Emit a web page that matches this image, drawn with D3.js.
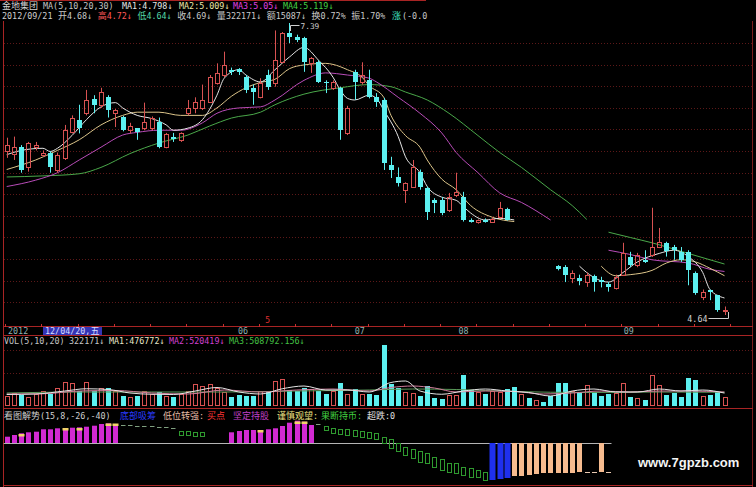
<!DOCTYPE html>
<html><head><meta charset="utf-8">
<script src="https://cdn.jsdelivr.net/npm/d3@7"></script>
<style>html,body{margin:0;padding:0;background:#000;}svg{display:block;}</style>
</head><body>
<svg id="c" width="756" height="487"></svg>
<script>
// ---------------- DATA ----------------
// daily candles, index 0..99 ; 70..75 are masked (blacked out) in the reference
const opens = [6.18,6.16,6.22,6.03,6.22,6.15,6.17,6.01,6.12,6.36,
6.48,6.54,6.67,6.62,6.69,6.54,6.505,6.38,6.40,6.40,
6.40,6.46,6.22,6.32,6.29,6.54,6.59,6.59,6.65,6.825,
6.90,6.95,6.955,6.88,6.78,6.69,6.90,6.825,7.02,7.30,
7.26,7.25,7.01,7.02,6.835,6.78,6.78,6.355,6.93,6.835,
6.855,6.69,6.665,6.05,5.94,5.82,5.85,5.99,5.84,5.72,
5.72,5.63,5.77,5.75,5.53,5.52,5.53,5.52,5.56,5.64,
null,null,null,null,null,null,5.10,5.09,4.99,4.99,
4.95,5.01,4.97,4.93,4.895,5.02,5.19,5.11,5.16,5.205,
5.28,5.32,5.28,5.235,5.235,5.04,4.81,4.88,4.83,4.68];
const highs = [6.31,6.32,6.24,6.27,6.27,6.19,6.18,6.17,6.43,6.52,
6.62,6.76,6.71,6.78,6.71,6.58,6.515,6.45,6.40,6.64,
6.51,6.50,6.355,6.355,6.36,6.665,6.69,6.81,6.90,7.01,
7.12,6.97,6.965,6.90,6.81,6.87,6.95,7.32,7.305,7.39,
7.28,7.26,7.07,7.04,6.85,6.85,6.79,6.61,6.95,7.02,
6.95,6.73,6.685,6.13,6.03,5.89,6.10,6.01,5.85,5.74,
5.75,5.79,5.98,5.80,5.55,5.54,5.55,5.56,5.705,5.65,
null,null,null,null,null,null,5.11,5.11,5.06,5.02,
5.04,5.02,5.00,4.95,5.02,5.32,5.235,5.225,5.25,5.65,
5.46,5.33,5.30,5.28,5.25,5.05,4.88,4.88,4.83,4.72];
const lows = [6.12,6.10,5.98,5.99,6.19,6.13,5.98,5.98,6.10,6.35,
6.35,6.52,6.54,6.59,6.50,6.41,6.37,6.35,6.29,6.38,
6.38,6.21,6.21,6.27,6.27,6.52,6.54,6.57,6.64,6.81,
6.88,6.90,6.90,6.73,6.62,6.68,6.76,6.79,7.01,7.20,
7.21,6.93,6.92,6.825,6.73,6.76,6.29,6.335,6.665,6.81,
6.68,6.60,6.006,5.93,5.85,5.695,5.84,5.82,5.535,5.60,
5.58,5.61,5.75,5.52,5.51,5.50,5.51,5.51,5.55,5.53,
null,null,null,null,null,null,5.06,4.95,4.94,4.92,
4.905,4.86,4.90,4.86,4.88,5.01,5.09,5.09,5.13,5.187,
5.27,5.19,5.16,5.14,4.92,4.83,4.78,4.78,4.67,4.64];
const closes = [6.24,6.22,6.01,6.26,6.24,6.17,6.03,6.15,6.38,6.50,
6.40,6.665,6.62,6.74,6.57,6.57,6.38,6.42,6.36,6.46,
6.50,6.22,6.34,6.30,6.355,6.59,6.645,6.665,6.88,6.92,
6.995,6.93,6.93,6.76,6.74,6.825,6.79,7.04,7.30,7.26,
7.23,7.02,7.06,6.835,6.825,6.835,6.38,6.59,6.835,6.90,
6.69,6.645,6.07,6.01,5.88,5.88,6.035,5.85,5.61,5.695,
5.60,5.75,5.80,5.535,5.52,5.53,5.52,5.54,5.65,5.535,
null,null,null,null,null,null,5.07,5.02,5.04,4.96,
5.02,4.95,4.95,4.90,5.00,5.225,5.11,5.205,5.14,5.28,
5.33,5.24,5.25,5.16,5.064,4.85,4.86,4.86,4.69,4.69];
// direction of the volume bars on the masked days 70..75
const maskedDayUp = [false,true,false,true,false,false];

const volumes = [362000,478000,401000,318000,442000,561000,436000,684000,918000,877000,
558000,923000,562000,679000,683000,557000,364000,321000,358000,562000,
441000,518000,362000,322000,438000,563000,842000,758000,846000,679000,
521000,318000,402000,359000,361000,558000,562000,962000,1038000,603000,
559000,682000,641000,558000,439000,562000,881000,442000,638000,441000,
443000,402000,2396000,838000,681000,522000,478000,362000,758000,281000,
238000,402000,398000,1198000,602000,518000,442000,561000,522000,642000,
718000,441000,282000,198000,121000,362000,878000,882000,561000,518000,
802000,521000,362000,438000,482000,878000,322000,279000,202000,1196000,
802000,398000,481000,318000,1082000,998000,362000,401000,522000,322171];

// price moving averages: [day index, price]; null = hidden part
const ma5 = [[0,6.15],[2,6.19],[5,6.21],[6,6.18],[7,6.21],[9,6.33],[11,6.48],[13,6.60],[15,6.64],[16,6.59],[18,6.52],[20,6.49],[22,6.43],[23,6.38],[25,6.40],[27,6.48],[29,6.71],[30,6.87],[32,6.95],[33,6.90],[35,6.835],[37,6.95],[39,7.07],[41,7.16],[43,7.04],[45,6.88],[46,6.76],[47,6.68],[48,6.665],[50,6.71],[51,6.68],[52,6.57],[54,6.32],[55,6.13],[57,5.98],[58,5.85],[60,5.75],[62,5.72],[63,5.66],[64,5.60],[66,5.535],[68,5.55],[70,5.535],null,[79,5.10],[80,5.04],[83,4.95],[85,5.04],[87,5.14],[90,5.22],[92,5.25],[94,5.19],[96,5.04],[97,4.88],[99,4.80]];
const ma10 = [[0,6.01],[4,6.10],[7,6.19],[10,6.29],[13,6.43],[16,6.52],[18,6.55],[21,6.55],[24,6.52],[27,6.52],[29,6.59],[31,6.70],[33,6.78],[35,6.83],[37,6.86],[39,6.96],[41,6.995],[44,7.01],[45,7.00],[47,6.95],[49,6.88],[50,6.80],[52,6.69],[53,6.52],[55,6.33],[57,6.22],[58,6.10],[60,5.92],[62,5.82],[64,5.67],[67,5.56],[70,5.52],null,[82,5.10],[84,5.01],[86,5.02],[89,5.06],[91,5.13],[93,5.16],[95,5.14],[97,5.08],[99,5.01]];
const ma20 = [[0,5.85],[4,5.91],[7,5.98],[10,6.10],[13,6.22],[16,6.335],[18,6.36],[21,6.38],[24,6.38],[27,6.45],[29,6.54],[32,6.59],[35,6.60],[37,6.665],[41,6.85],[44,6.92],[47,6.90],[50,6.87],[51,6.835],[54,6.69],[57,6.54],[60,6.355],[62,6.17],[65,5.98],[68,5.79],[71,5.70],[75,5.535],null,[83,5.25],[86,5.21],[89,5.16],[94,5.13],[97,5.07],[99,5.05]];
const ma30 = [[0,5.94],[5,5.95],[10,5.97],[13,6.03],[17,6.16],[21,6.26],[25,6.335],[28,6.42],[31,6.495],[35,6.55],[37,6.62],[41,6.72],[46,6.78],[50,6.81],[53,6.79],[55,6.74],[58,6.665],[61,6.54],[65,6.33],[68,6.17],[71,6.03],[75,5.82],[78,5.67],[80,5.54],null,[83,5.42],[86,5.37],[89,5.32],[94,5.22],[99,5.12]];

// volume moving averages: [day index, volume]
const volMa1 = [[0,420000],[4,440000],[8,560000],[11,650000],[14,620000],[17,480000],[20,430000],[23,420000],[26,560000],[29,700000],[32,520000],[35,440000],[38,650000],[41,760000],[44,600000],[47,600000],[50,520000],[53,900000],[55,960000],[57,560000],[60,430000],[63,560000],[66,640000],[69,560000],[72,500000],[75,360000],[78,560000],[81,640000],[84,520000],[87,520000],[90,640000],[93,560000],[96,600000],[99,476772]];
const volMa2 = [[0,440000],[5,450000],[10,560000],[15,580000],[20,480000],[25,440000],[30,600000],[35,520000],[40,600000],[45,640000],[50,560000],[53,700000],[56,760000],[59,680000],[62,520000],[66,560000],[70,540000],[74,440000],[78,480000],[82,560000],[86,520000],[90,560000],[94,560000],[99,520419]];
const volMa3 = [[0,480000],[10,520000],[20,520000],[30,520000],[40,560000],[50,600000],[56,640000],[62,620000],[70,540000],[80,500000],[90,520000],[99,508792]];

// indicator panel 看图解势 : [day index, value]
const holdBars = [[0,6.3],[1,8],[2,9.7],[3,10.7],[4,11.3],[5,13.7],[6,13.7],[7,14.7],[8,14.7],[9,15.3],[10,15.7],[11,16.3],[12,17.3],[13,19],[14,19.7],[15,18],
 [31,10.7],[32,12],[33,13],[34,13],[35,12.3],[36,13.7],[37,14.7],[38,17],[39,20.3],[40,22.3],[41,21.3],[42,18]];
const cautionMarks = [[2,9],[8,15],[10,15],[14,19.5],[15,19.5],[35,13],[40,21.5],[41,21.5]];
const sellMarks = [[16,18,17],[17,18,17],[18,17.5,16.5],[19,17,16],[20,17,16],[21,16,15],[22,16,15],[23,15,14],[24,12,8],[25,12,8],[26,11,7],[27,11,7],
 [43,19,18],[44,17,13],[45,15,10],[46,14,9],[47,14,8],[48,13,7],[49,12,6],[50,11,5],[51,10,4],[52,6,0],[53,4,-5],[54,0,-8],[55,-4,-12],[56,-6,-15],[57,-8,-19],[58,-10,-20],[59,-14,-24],[60,-16,-27],[61,-20,-29],[62,-20,-30],[63,-24,-32],[64,-25,-34],[65,-27,-34],[66,-29,-37]];
const bottomBars = [[67,-37],[68,-36],[69,-35]];
const strongBars = [[70,-33],[71,-33],[72,-32],[73,-31],[74,-30],[75,-30],[76,-30],[77,-30],[78,-30],[79,-29],[82,-29]];
const strongDashes = [[80,-29],[81,-29],[83,-29]];

// axis labels
const monthLabels = ["06","07","08","09"];
const monthIdx = [32.6, 48.7, 63, 85.8];

// ---------------- DRAWING ----------------
const W = 756, H = 487;
const svg = d3.select('#c');
svg.append('rect').attr('width', W).attr('height', H).attr('fill', '#000');

const x  = d3.scaleLinear().domain([0, 99]).range([6.7, 724.5]);
const y  = d3.scaleLinear().domain([4.64, 7.39]).range([315, 23]);
const yv = d3.scaleLinear().domain([0, 2400000]).range([405, 345]);
const yi = d3.scaleLinear().domain([-44, 30]).range([487, 413]);

const RED = '#d85252', CYAN = '#5cf0f0', FRAME = '#a82424', GRID = '#5c1818';
const px = i => Math.round(x(i)) + 0.5;

// grid (dotted)
const gGrid = svg.append('g').attr('stroke', GRID).attr('stroke-dasharray', '1,2');
d3.range(13).forEach(k => {
  const yy = Math.round(43 + k * 21.6) + 0.5;
  gGrid.append('line').attr('x1', 4).attr('x2', 752).attr('y1', yy).attr('y2', yy);
});
[350, 373].forEach(v => gGrid.append('line').attr('x1', 4).attr('x2', 752).attr('y1', v + .5).attr('y2', v + .5));

// frame
const gF = svg.append('g').attr('stroke', FRAME).attr('stroke-width', 1);
gF.append('line').attr('x1', 0).attr('x2', 426).attr('y1', .5).attr('y2', .5);
gF.append('line').attr('x1', 3.5).attr('x2', 3.5).attr('y1', 21).attr('y2', H);
gF.append('line').attr('x1', 752.5).attr('x2', 752.5).attr('y1', 21).attr('y2', H).attr('stroke', '#7a1c1c');
[326.5, 335.5, 408.5, 485.5].forEach(v => gF.append('line').attr('x1', 3).attr('x2', 753).attr('y1', v).attr('y2', v));

// axis ticks every 5 days
const gT = svg.append('g').attr('stroke', '#c83030');
d3.range(0, 101, 5).forEach(i => {
  const xx = Math.round(x(i) - 1.5) + .5;
  gT.append('line').attr('x1', xx).attr('x2', xx).attr('y1', 324).attr('y2', 327);
});

// moving average lines (main)
const lineP = d3.line().defined(d => d != null).x(d => x(d[0])).y(d => y(d[1])).curve(d3.curveMonotoneX);
[[ma30, '#4aa84a'], [ma20, '#b84cb8'], [ma10, '#dcc58a'], [ma5, '#e6e6e6']].forEach(([arr, col]) => {
  svg.append('path').attr('d', lineP(arr)).attr('fill', 'none').attr('stroke', col).attr('stroke-width', 1);
});

// candles
const gC = svg.append('g');
const candleIdx = opens.map((o, i) => i).filter(i => opens[i] != null);
candleIdx.forEach(i => {
  const o = opens[i], c = closes[i], h = highs[i], l = lows[i];
  const up = c >= o;
  const cx = px(i);
  const top = Math.round(y(Math.max(o, c))), bot = Math.round(y(Math.min(o, c)));
  const yh = y(h), yl = y(l);
  if (up) {
    if (bot - top < 1) {
      gC.append('line').attr('x1', cx).attr('x2', cx).attr('y1', yh).attr('y2', yl).attr('stroke', RED);
      gC.append('line').attr('x1', cx - 2.5).attr('x2', cx + 2.5).attr('y1', top + .5).attr('y2', top + .5).attr('stroke', RED);
    } else {
      gC.append('line').attr('x1', cx).attr('x2', cx).attr('y1', yh).attr('y2', top + .5).attr('stroke', RED);
      gC.append('line').attr('x1', cx).attr('x2', cx).attr('y1', bot + .5).attr('y2', yl).attr('stroke', RED);
      gC.append('rect').attr('x', cx - 2).attr('y', top + .5).attr('width', 4).attr('height', bot - top)
        .attr('fill', 'none').attr('stroke', RED);
    }
  } else {
    gC.append('line').attr('x1', cx).attr('x2', cx).attr('y1', yh).attr('y2', yl).attr('stroke', CYAN);
    gC.append('rect').attr('x', cx - 2.5).attr('y', top).attr('width', 5).attr('height', Math.max(1, bot - top)).attr('fill', CYAN);
  }
});

// extreme labels
const lab = svg.append('g').attr('fill', 'none').attr('stroke', '#cfcfcf');
lab.append('path').attr('d', `M${px(39) + 1},${y(7.39) + 8}V${Math.round(y(7.39)) + 2.5}H${px(39) + 10}`);
lab.append('path').attr('d', `M${px(99) - 17},${Math.round(y(4.64)) + 3.5}H${px(99) + 3}V${y(4.64) - 3}`);
svg.append('text').attr('x', px(39) + 11).attr('y', y(7.39) + 6).text('7.39')
  .attr('fill', '#d0d0d0').attr('font-family', 'DejaVu Sans Mono').attr('font-size', 7.8);
svg.append('text').attr('x', px(99) - 18).attr('y', y(4.64) + 6.5).attr('text-anchor', 'end').text('4.64')
  .attr('fill', '#d0d0d0').attr('font-family', 'DejaVu Sans Mono').attr('font-size', 8.4);

// volume bars
const gV = svg.append('g');
volumes.forEach((v, i) => {
  const up = opens[i] != null ? closes[i] >= opens[i] : maskedDayUp[i - 70];
  const cx = px(i);
  const t = Math.round(yv(v)), b = 405;
  if (up) {
    gV.append('rect').attr('x', cx - 2).attr('y', t + .5).attr('width', 4).attr('height', Math.max(1, b - t))
      .attr('fill', 'none').attr('stroke', RED);
  } else {
    gV.append('rect').attr('x', cx - 2.5).attr('y', t).attr('width', 5).attr('height', Math.max(1, b + 1 - t)).attr('fill', CYAN);
  }
});
const lineV = d3.line().x(d => x(d[0])).y(d => yv(d[1])).curve(d3.curveMonotoneX);
[[volMa3, '#5a9a5a'], [volMa2, '#d07a9a'], [volMa1, '#e4e4e4']].forEach(([arr, col]) => {
  svg.append('path').attr('d', lineV(arr)).attr('fill', 'none').attr('stroke', col).attr('stroke-width', 1);
});

// indicator panel
const gI = svg.append('g');
const y0 = Math.round(yi(0)) + .5;
gI.append('line').attr('x1', x(0) - 3).attr('x2', x(83) + 3).attr('y1', y0).attr('y2', y0).attr('stroke', '#b4b4b4');
holdBars.forEach(([i, v]) => {
  gI.append('rect').attr('x', px(i) - 2.5).attr('y', yi(v)).attr('width', 5).attr('height', yi(0) - yi(v)).attr('fill', '#d22ad2');
});
cautionMarks.forEach(([i, v]) => {
  gI.append('rect').attr('x', px(i) - 3).attr('y', yi(v)).attr('width', 6).attr('height', 2.5).attr('fill', '#f2d36a');
});
sellMarks.forEach(([i, t, b]) => {
  if (t - b <= 1.5) {
    gI.append('line').attr('x1', px(i) - 2.5).attr('x2', px(i) + 2).attr('y1', Math.round(yi(t)) + .5).attr('y2', Math.round(yi(t)) + .5)
      .attr('stroke', '#7f9f7f');
  } else {
    gI.append('rect').attr('x', px(i) - 2).attr('y', Math.round(yi(t)) + .5).attr('width', 4).attr('height', Math.round(yi(b) - yi(t)))
      .attr('fill', 'none').attr('stroke', '#2f9a2f');
  }
});
bottomBars.forEach(([i, v]) => {
  gI.append('rect').attr('x', px(i) - 3).attr('y', yi(0)).attr('width', 6).attr('height', yi(v) - yi(0)).attr('fill', '#1f30ee');
});
strongBars.forEach(([i, v]) => {
  gI.append('rect').attr('x', px(i) - 2.5).attr('y', yi(0)).attr('width', 5).attr('height', yi(v) - yi(0)).attr('fill', '#f6bb8f');
});
strongDashes.forEach(([i, v]) => {
  gI.append('line').attr('x1', px(i) - 2.5).attr('x2', px(i) + 2.5).attr('y1', Math.round(yi(v)) + .5).attr('y2', Math.round(yi(v)) + .5)
    .attr('stroke', '#e8c8b0');
});

// ---------------- TEXT ----------------
const CJK = /[\u3000-\u9fff\uff00-\uffef]/;
const MONO = 8.4, CJKS = 9;
function rich(x0, y0, str, color) {
  const t = svg.append('text').attr('x', x0).attr('y', y0).attr('fill', color);
  (str.match(/[\u3000-\u9fff\uff00-\uffef]+|[^\u3000-\u9fff\uff00-\uffef]+/g) || []).forEach(r => {
    const c = CJK.test(r);
    t.append('tspan').text(r)
      .attr('font-family', c ? "'Noto Sans CJK SC'" : "'DejaVu Sans Mono'")
      .attr('font-size', c ? CJKS : MONO);
  });
  return t;
}
function flow(x0, y0, segs, gap) {
  let xx = x0;
  segs.forEach(([s, col]) => {
    const t = rich(xx, y0, s, col);
    xx += t.node().getComputedTextLength() + gap;
  });
}
// header line 1
rich(2, 8.5, '金地集团', '#d4d4d4');
rich(43, 8.5, 'MA(5,10,20,30)', '#c4c4c4');
rich(122, 8.5, 'MA1:4.798↓', '#e6e6e6');
rich(179, 8.5, 'MA2:5.009↓', '#ece6a8');
rich(233, 8.5, 'MA3:5.05↓', '#e040e0');
rich(283, 8.5, 'MA4:5.119↓', '#44d044');
// header line 2
flow(2, 19, [
  ['2012/09/21', '#cfcfcf'], ['开4.68↓', '#c8c8c8'], ['高4.72↓', '#ff5858'], ['低4.64↓', '#54d8a8'],
  ['收4.69↓', '#c8c8c8'], ['量322171↓', '#c8c8c8'], ['额15087↓', '#c8c8c8'], ['换0.72%', '#c8c8c8'],
  ['振1.70%', '#c8c8c8']
], 5.5);
rich(392, 19, '涨', '#40e0c0');
rich(402, 19, '(-0.0', '#c8c8c8');

// date axis
rich(8, 333.5, '2012', '#8fb0b0');
svg.append('rect').attr('x', 43).attr('y', 327).attr('width', 59).attr('height', 8).attr('fill', '#3434b4');
rich(45, 333.5, '12/04/20,五', '#d8dcff');
monthLabels.forEach((m, k) => {
  svg.append('text').attr('x', x(monthIdx[k])).attr('y', 333.5).attr('text-anchor', 'middle').text(m)
    .attr('fill', '#8fb0b0').attr('font-family', 'DejaVu Sans Mono').attr('font-size', MONO);
});
svg.append('text').attr('x', x(36)).attr('y', 323).attr('text-anchor', 'middle').text('5')
  .attr('fill', '#e03030').attr('font-family', 'DejaVu Sans Mono').attr('font-size', 8);

// volume header
rich(4, 344, 'VOL(5,10,20)', '#c4c4c4');
rich(69, 344, '322171↓', '#c8c8c8');
rich(109, 344, 'MA1:476772↓', '#e6e6c8');
rich(169, 344, 'MA2:520419↓', '#d040d0');
rich(229, 344, 'MA3:508792.156↓', '#44c044');

// indicator header
rich(4, 418.5, '看图解势(15,8,-26,-40)', '#cfcfcf');
rich(120, 418.5, '底部吸筹', '#2a3cff');
rich(163, 418.5, '低位转强:', '#e6bca4');
rich(207, 418.5, '买点', '#ff3434');
rich(233, 418.5, '坚定持股', '#c040c8');
rich(277, 418.5, '谨慎观望:', '#eee080');
rich(321, 418.5, '果断持币:', '#40d040');
rich(367, 418.5, '超跌:0', '#e0e0e0');

// watermark
svg.append('text').attr('x', 638).attr('y', 467).text('www.7gpzb.com')
  .attr('fill', '#f4f4f4').attr('font-family', "'Liberation Sans', Arial, sans-serif").attr('font-weight', 'bold').attr('font-size', 13);
</script>
</body></html>
